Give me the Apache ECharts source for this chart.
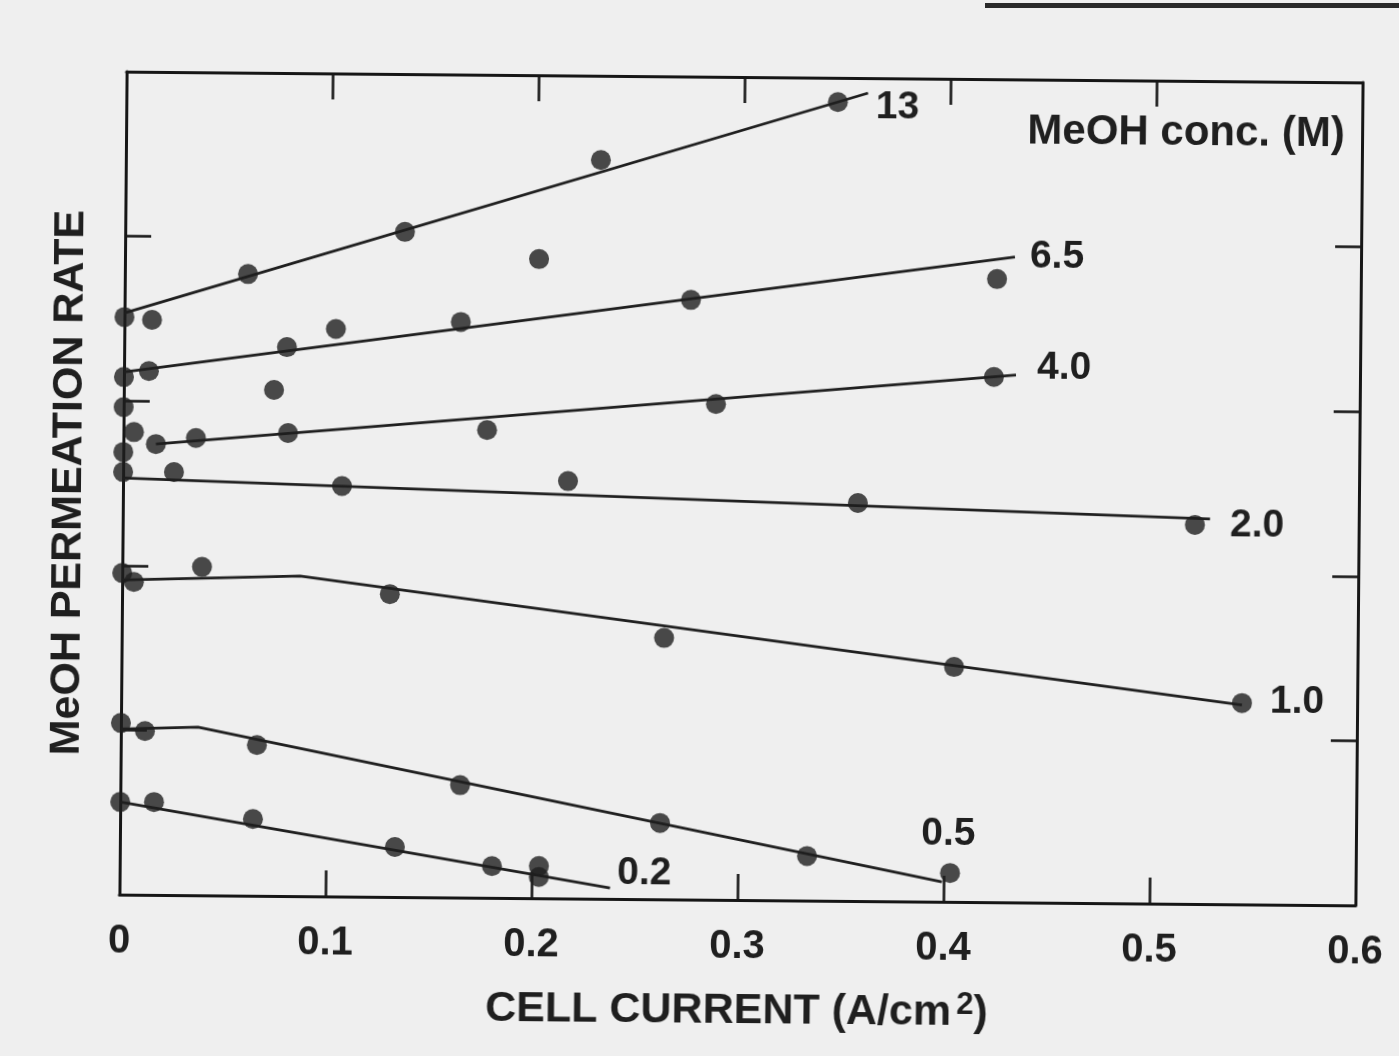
<!DOCTYPE html>
<html>
<head>
<meta charset="utf-8">
<script src="https://cdn.jsdelivr.net/npm/echarts/dist/echarts.min.js"></script>
<style>
  html, body { margin: 0; padding: 0; background: #efefef; }
  #chart {
    position: absolute; left: 0; top: 0; width: 1399px; height: 1056px;
    transform: rotate(0.5deg); transform-origin: 741px 488.5px;
  }
  #edge { position: absolute; left: 985px; top: 3px; width: 414px; height: 5px; background: #2a2a2a; }
</style>
</head>
<body>
<div id="edge"></div>
<div id="chart"></div>
<script>
// MeOH concentration of each data set (M)
const concLabels = ['13', '6.5', '4.0', '2.0', '1.0', '0.5', '0.2'];
const xTickLabels = ['0', '0.1', '0.2', '0.3', '0.4', '0.5', '0.6'];

// measured points: [cell current (A/cm2), permeation rate (arb.)]
const pts13 = [[0, 3.509], [0.0134, 3.493], [0.0598, 3.777], [0.1358, 4.041], [0.2306, 4.488], [0.3454, 4.853]];
const pts65 = [[0, 3.145], [0.0121, 3.182], [0.0729, 3.074], [0.079, 3.335], [0.1027, 3.448], [0.1633, 3.497], [0.201, 3.883], [0.2749, 3.643], [0.4234, 3.786]];
const pts40 = [[0, 2.962], [0.0051, 2.811], [0, 2.689], [0.0158, 2.739], [0.0352, 2.778], [0.0799, 2.813], [0.1765, 2.842], [0.2875, 3.012], [0.4223, 3.191]];
const pts20 = [[0, 2.568], [0.0247, 2.570], [0.1063, 2.494], [0.216, 2.536], [0.3568, 2.418], [0.5205, 2.303]];
const pts10 = [[0, 1.954], [0.0057, 1.900], [0.0387, 1.995], [0.130, 1.840], [0.2633, 1.588], [0.4042, 1.427], [0.5441, 1.223]];
const pts05 = [[0, 1.043], [0.0117, 0.995], [0.0661, 0.916], [0.1649, 0.683], [0.2621, 0.464], [0.3336, 0.271], [0.4031, 0.175]];
const pts02 = [[0, 0.563], [0.0164, 0.564], [0.0645, 0.466], [0.1335, 0.304], [0.1807, 0.193], [0.2035, 0.196], [0.2035, 0.129]];

// fitted trend lines (vertices)
const fit13 = [[0, 3.534], [0.360, 4.909]];
const fit65 = [[0, 3.175], [0.432, 3.921]];
const fit40 = [[0.0158, 2.739], [0.433, 3.204]];
const fit20 = [[0, 2.531], [0.5278, 2.340]];
const fit10 = [[0, 1.911], [0.0863, 1.945], [0.5441, 1.211]];
const fit05 = [[0, 1.006], [0.0374, 1.022], [0.3992, 0.120]];
const fit02 = [[0, 0.563], [0.2381, 0.066]];

const pointSets = [pts13, pts65, pts40, pts20, pts10, pts05, pts02];
const fitSets = [fit13, fit65, fit40, fit20, fit10, fit05, fit02];

// where each concentration tag sits relative to the end of its line
const tagPlacement = {
  '13':  { position: 'right', distance: 8,  offset: [0, 14] },
  '6.5': { position: 'right', distance: 15, offset: [0, 0] },
  '4.0': { position: 'right', distance: 21, offset: [0, -7] },
  '2.0': { position: 'right', distance: 20, offset: [0, 6] },
  '1.0': { position: 'right', distance: 28, offset: [0, -3] },
  '0.5': { position: 'top',   distance: 28, offset: [6, 0] },
  '0.2': { position: 'right', distance: 7,  offset: [0, -15] }
};

const INK = '#1f1f1f';
const FONT = '"Liberation Sans", Arial, Helvetica, sans-serif';

const series = [];
concLabels.forEach((name, i) => {
  const fit = fitSets[i];
  series.push({
    type: 'line',
    name: name,
    silent: true,
    symbol: 'circle',
    symbolSize: 0,
    showSymbol: true,
    z: 2,
    lineStyle: { color: INK, width: 2.8 },
    itemStyle: { color: INK },
    label: { show: false },
    data: fit.map((p, j) => j === fit.length - 1
      ? {
          value: p,
          label: Object.assign({
            show: true,
            formatter: '{a}',
            color: INK,
            fontFamily: FONT,
            fontWeight: 'bold',
            fontSize: 39
          }, tagPlacement[name])
        }
      : p)
  });
  series.push({
    type: 'scatter',
    name: name + ' data',
    silent: true,
    symbol: 'circle',
    symbolSize: 20,
    z: 3,
    itemStyle: { color: '#1e1e1e' },
    data: pointSets[i]
  });
});

const axisLineStyle = { color: '#161616', width: 3 };
const tickStyle = { color: '#161616', width: 2.6 };

const chart = echarts.init(document.getElementById('chart'), null, { renderer: 'canvas' });
chart.setOption({
  animation: false,
  backgroundColor: 'transparent',
  grid: { left: 123, right: 40, top: 77, bottom: 156, containLabel: false },
  xAxis: [
    {
      type: 'value', position: 'bottom', min: 0, max: 0.6, interval: 0.1,
      name: '{t|CELL CURRENT (A/cm}{s|2}{t|)}',
      nameLocation: 'middle', nameGap: 88,
      nameTextStyle: {
        rich: {
          t: { fontFamily: FONT, fontWeight: 'bold', fontSize: 43, color: INK },
          s: { fontFamily: FONT, fontWeight: 'bold', fontSize: 31, color: INK, verticalAlign: 'top', padding: [0, 0, 16, 5] }
        }
      },
      axisLine: { show: true, onZero: false, lineStyle: axisLineStyle },
      axisTick: { show: true, inside: true, length: 26, lineStyle: tickStyle },
      axisLabel: {
        margin: 27, fontFamily: FONT, fontWeight: 'bold', fontSize: 40, color: INK,
        formatter: v => xTickLabels[Math.round(v * 10)]
      },
      splitLine: { show: false }
    },
    {
      type: 'value', position: 'top', min: 0, max: 0.6, interval: 0.1,
      axisLine: { show: true, onZero: false, lineStyle: axisLineStyle },
      axisTick: { show: true, inside: true, length: 26, lineStyle: tickStyle },
      axisLabel: { show: false },
      splitLine: { show: false }
    }
  ],
  yAxis: [
    {
      type: 'value', position: 'left', min: 0, max: 5, interval: 1,
      name: 'MeOH PERMEATION RATE',
      nameLocation: 'middle', nameGap: 32, nameRotate: 90,
      nameTextStyle: { fontFamily: FONT, fontWeight: 'bold', fontSize: 43, color: INK },
      axisLine: { show: true, onZero: false, lineStyle: axisLineStyle },
      axisTick: { show: true, inside: true, length: 26, lineStyle: tickStyle },
      axisLabel: { show: false },
      splitLine: { show: false }
    },
    {
      type: 'value', position: 'right', min: 0, max: 5, interval: 1,
      axisLine: { show: true, onZero: false, lineStyle: axisLineStyle },
      axisTick: { show: true, inside: true, length: 26, lineStyle: tickStyle },
      axisLabel: { show: false },
      splitLine: { show: false }
    }
  ],
  graphic: [
    {
      type: 'text', x: 1183, y: 129, silent: true,
      style: {
        text: 'MeOH conc. (M)',
        fontFamily: FONT, fontWeight: 'bold', fontSize: 42, fill: INK,
        textAlign: 'center', textVerticalAlign: 'middle'
      }
    }
  ],
  series: series
});
</script>
</body>
</html>
